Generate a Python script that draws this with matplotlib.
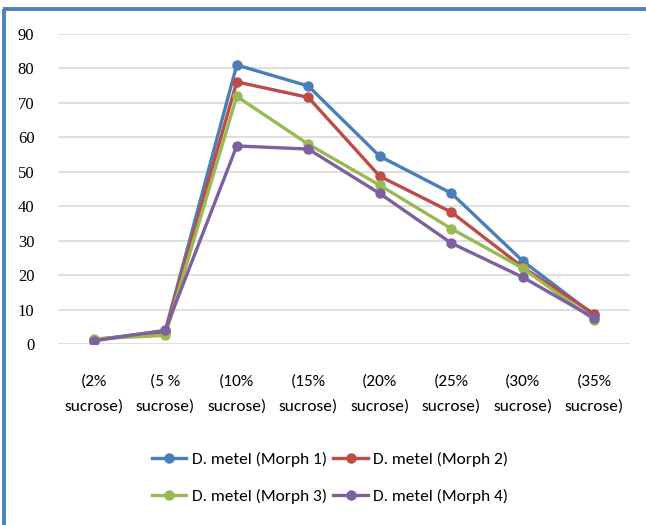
import matplotlib
matplotlib.use("Agg")
import matplotlib.pyplot as plt
from matplotlib.lines import Line2D

categories = ["(2%\nsucrose)", "(5 %\nsucrose)", "(10%\nsucrose)", "(15%\nsucrose)",
              "(20%\nsucrose)", "(25%\nsucrose)", "(30%\nsucrose)", "(35%\nsucrose)"]
morph1 = [1.2, 3.8, 81.0, 74.9, 54.5, 43.8, 24.1, 8.3]
morph2 = [1.2, 3.5, 76.1, 71.6, 48.7, 38.3, 22.3, 8.7]
morph3 = [1.5, 2.5, 71.9, 58.0, 46.1, 33.5, 22.0, 7.0]
morph4 = [0.9, 4.0, 57.5, 56.6, 43.7, 29.3, 19.4, 7.5]
series_names = ["D. metel (Morph 1)", "D. metel (Morph 2)", "D. metel (Morph 3)", "D. metel (Morph 4)"]
colors = ["#4A7EBB", "#BE4B48", "#98B954", "#7D60A0"]
yticks = [0, 10, 20, 30, 40, 50, 60, 70, 80, 90]

fig = plt.figure(figsize=(6.46, 5.25), dpi=100)
W, H = 646, 525
ax = fig.add_axes([58 / W, 1 - 344 / H, (630 - 58) / W, (344 - 34) / H])

x = list(range(len(categories)))
for vals, name, c in zip([morph1, morph2, morph3, morph4], series_names, colors):
    ax.plot(x, vals, color=c, lw=2.4, marker="o", ms=6.5, label=name,
            solid_joinstyle="round", zorder=3)

ax.set_xlim(-0.5, len(categories) - 0.5)
ax.set_ylim(0, 90)
ax.set_yticks(yticks)
ax.set_yticklabels([str(v) for v in yticks])
ax.set_xticks(x)
ax.set_xticklabels(categories)
ax.tick_params(axis="both", length=0)
ax.tick_params(axis="y", pad=17, labelsize=12, labelfontfamily="Liberation Serif")
ax.tick_params(axis="x", pad=22, labelsize=12.5, labelfontfamily="Carlito")
for t in ax.get_xticklabels():
    t.set_linespacing(1.9)
ax.grid(axis="y", color="#D9D9D9", lw=1.2, zorder=0)
ax.set_axisbelow(True)
for s in ax.spines.values():
    s.set_visible(False)

handles = [Line2D([], [], color=c, lw=2.4, marker="o", ms=6.5) for c in colors]
order = [0, 2, 1, 3]  # row-major fill: Morph1, Morph2 / Morph3, Morph4
leg = fig.legend([handles[i] for i in order], [series_names[i] for i in order],
                 ncol=2, loc="center",
                 bbox_to_anchor=(330 / W, 1 - 478 / H), frameon=False,
                 prop={"family": "Carlito", "size": 12.5}, handlelength=2.0,
                 handletextpad=0.3, columnspacing=0.4, labelspacing=1.25)

# blue frame (left and top edges)
fig.add_artist(Line2D([4.3 / W, 4.3 / W], [0, 1 - 9 / H], transform=fig.transFigure,
                      color="#4F81BD", lw=2.8, solid_capstyle="butt"))
fig.add_artist(Line2D([3 / W, 1], [1 - 9 / H, 1 - 9 / H], transform=fig.transFigure,
                      color="#4F81BD", lw=2.8, solid_capstyle="butt"))

fig.savefig("out.png", dpi=100, facecolor="white")
